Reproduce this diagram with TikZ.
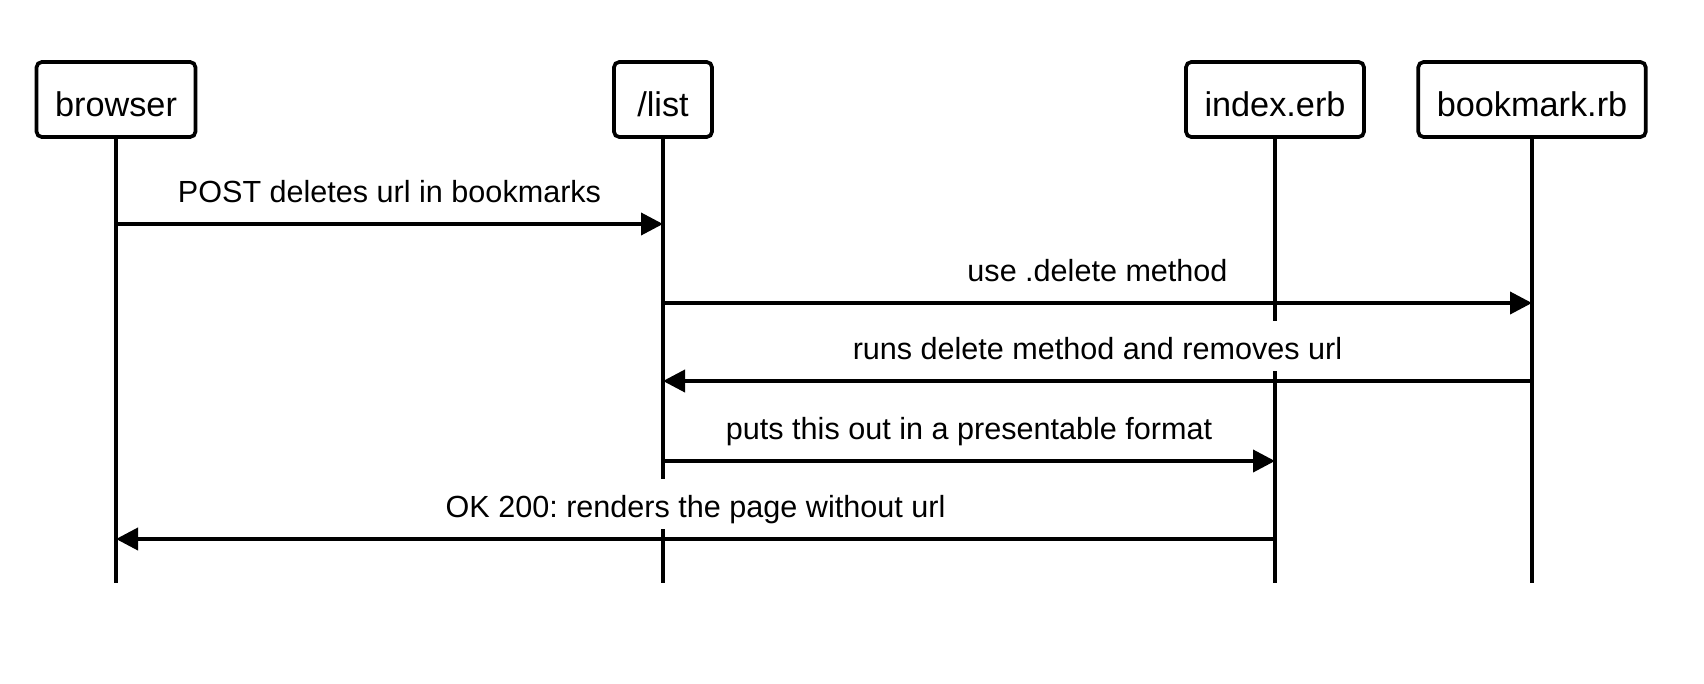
\documentclass[tikz,border=0pt]{standalone}
\usepackage{fontspec}
\setmainfont{Liberation Sans}
\usetikzlibrary{arrows.meta}
\frenchspacing

\begin{document}
\begin{tikzpicture}[
  box/.style={draw, rounded corners=3pt, line width=2.1pt, minimum height=1.5cm,
    inner xsep=0.37cm, text height=0.674cm, text depth=0cm,
    font=\fontsize{19.5}{23}\selectfont},
  life/.style={line width=2.2pt},
  flow/.style={-{Triangle[length=0.44cm, width=0.44cm]}, line width=2.2pt},
  msg/.style={above=0.16cm, fill=white, minimum height=1.0cm, inner xsep=4pt,
    inner ysep=0pt, text height=0.67cm, text depth=0.13cm,
    font=\fontsize{17.4}{21}\selectfont}
]
\useasboundingbox (0,0) rectangle (34.08,-13.68);
\node[box] (browser) at (2.32,-1.99) {browser};
\node[box, minimum width=1.96cm] (list) at (13.26,-1.99) {/list};
\node[box] (index) at (25.50,-1.99) {index.erb};
\node[box] (bookmark) at (30.64,-1.99) {bookmark.rb};
\coordinate (bottom) at (0,-11.66);
\draw[life] (browser) -- (browser |- bottom);
\draw[life] (list) -- (list |- bottom);
\draw[life] (index) -- (index |- bottom);
\draw[life] (bookmark) -- (bookmark |- bottom);
\coordinate (m1) at (0,-4.48);
\coordinate (m2) at (0,-6.06);
\coordinate (m3) at (0,-7.62);
\coordinate (m4) at (0,-9.22);
\coordinate (m5) at (0,-10.78);
\draw[flow] (browser |- m1) -- node[msg] {POST deletes url in bookmarks} (list |- m1);
\draw[flow] (list |- m2) -- node[msg] {use .delete method} (bookmark |- m2);
\draw[flow] (bookmark |- m3) -- node[msg] {runs delete method and removes url} (list |- m3);
\draw[flow] (list |- m4) -- node[msg] {puts this out in a presentable format} (index |- m4);
\draw[flow] (index |- m5) -- node[msg] {OK 200: renders the page without url} (browser |- m5);
\end{tikzpicture}
\end{document}
